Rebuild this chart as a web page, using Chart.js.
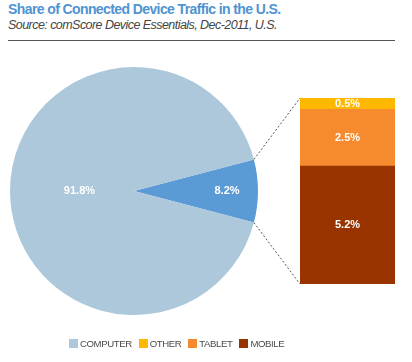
<!DOCTYPE html>
<html>
<head>
<meta charset="utf-8">
<script src="https://cdn.jsdelivr.net/npm/chart.js@4/dist/chart.umd.min.js"></script>
<style>
  body { margin: 0; background: #fff; width: 412px; height: 362px; position: relative; overflow: hidden; font-family: "Liberation Sans", Arial, sans-serif; }
  .title { position: absolute; left: 8px; top: 1px; font-size: 14px; font-weight: bold; color: #4f93d2; letter-spacing: -0.6px; white-space: nowrap; }
  .source { position: absolute; left: 8px; top: 18px; font-size: 12.5px; font-style: italic; color: #444; letter-spacing: -0.55px; white-space: nowrap; }
  .rule { position: absolute; left: 8px; top: 40px; width: 387px; height: 1px; background: #555; }
  #pie { position: absolute; left: 10px; top: 67px; }
  #bar { position: absolute; left: 300px; top: 98px; }
  #links { position: absolute; left: 0; top: 0; pointer-events: none; }
  .legend { position: absolute; left: 69px; top: 338px; font-size: 9.6px; color: #4a4a4a; letter-spacing: -0.4px; white-space: nowrap; }
  .legend span.item { display: inline-block; margin-right: 7px; }
  .legend i { display: inline-block; width: 9px; height: 9px; vertical-align: -1px; margin-right: 2px; }
</style>
</head>
<body>
<div class="title">Share of Connected Device Traffic in the U.S.</div>
<div class="source">Source: comScore Device Essentials, Dec-2011, U.S.</div>
<div class="rule"></div>
<canvas id="pie" width="248" height="248"></canvas>
<canvas id="bar" width="95" height="186"></canvas>
<canvas id="links" width="412" height="362"></canvas>
<div class="legend" id="legend"></div>
<script>
// pie: non-computer share split out into the bar
const pieLabels = ['MOBILE DEVICES', 'COMPUTER'];
const pieValues = [8.2, 91.8];
const pieColors = ['#5b9bd5', '#adc8da'];

// stacked bar breakdown (bottom to top)
const barLabels = ['MOBILE', 'TABLET', 'OTHER'];
const barValues = [5.2, 2.5, 0.5];
const barColors = ['#993300', '#f58b2e', '#ffb800'];

const legendLabels = ['COMPUTER', 'OTHER', 'TABLET', 'MOBILE'];
const legendColors = ['#adc8da', '#ffb800', '#f58b2e', '#993300'];

const labelFont = 'bold 11px "Liberation Sans", Arial, sans-serif';

const pieLabelPlugin = {
  id: 'pieLabels',
  afterDatasetsDraw(chart) {
    const ctx = chart.ctx;
    const radii = [0.75, 0.44];
    chart.getDatasetMeta(0).data.forEach((arc, i) => {
      const mid = (arc.startAngle + arc.endAngle) / 2;
      const r = arc.outerRadius * radii[i];
      ctx.save();
      ctx.font = labelFont;
      ctx.fillStyle = '#fff';
      ctx.textAlign = 'center';
      ctx.textBaseline = 'middle';
      ctx.fillText(pieValues[i].toFixed(1) + '%', arc.x + Math.cos(mid) * r, arc.y + Math.sin(mid) * r);
      ctx.restore();
    });
  }
};

const barLabelPlugin = {
  id: 'barLabels',
  afterDatasetsDraw(chart) {
    const ctx = chart.ctx;
    chart.data.datasets.forEach((ds, i) => {
      const bar = chart.getDatasetMeta(i).data[0];
      ctx.save();
      ctx.font = labelFont;
      ctx.fillStyle = '#fff';
      ctx.textAlign = 'center';
      ctx.textBaseline = 'middle';
      ctx.fillText(ds.data[0].toFixed(1) + '%', bar.x, (bar.y + bar.base) / 2);
      ctx.restore();
    });
  }
};

// start the small slice so it sits centred on 3 o'clock
const halfSlice = pieValues[0] / 100 * 180;

const pieChart = new Chart(document.getElementById('pie'), {
  type: 'pie',
  data: {
    labels: pieLabels,
    datasets: [{ data: pieValues, backgroundColor: pieColors, borderWidth: 0 }]
  },
  options: {
    responsive: false,
    animation: false,
    devicePixelRatio: 1,
    rotation: 90 - halfSlice,
    plugins: { legend: { display: false }, tooltip: { enabled: false } }
  },
  plugins: [pieLabelPlugin]
});

const barChart = new Chart(document.getElementById('bar'), {
  type: 'bar',
  data: {
    labels: ['MOBILE DEVICES'],
    datasets: barLabels.map((name, i) => ({
      label: name,
      data: [barValues[i]],
      backgroundColor: barColors[i],
      borderWidth: 0,
      barPercentage: 1,
      categoryPercentage: 1
    }))
  },
  options: {
    responsive: false,
    animation: false,
    devicePixelRatio: 1,
    scales: {
      x: { stacked: true, display: false },
      y: { stacked: true, display: false, min: 0, max: barValues.reduce((a, b) => a + b, 0) }
    },
    plugins: { legend: { display: false }, tooltip: { enabled: false } }
  },
  plugins: [barLabelPlugin]
});

// dashed connectors from the small slice to the bar
(function drawLinks() {
  const ctx = document.getElementById('links').getContext('2d');
  const pieEl = document.getElementById('pie');
  const barEl = document.getElementById('bar');
  const arc = pieChart.getDatasetMeta(0).data[0];
  const n = barValues.length;
  const topBar = barChart.getDatasetMeta(n - 1).data[0];
  const bottomBar = barChart.getDatasetMeta(0).data[0];
  const px = pieEl.offsetLeft, py = pieEl.offsetTop;
  const bx = barEl.offsetLeft, by = barEl.offsetTop;
  const left = bx + topBar.x - topBar.width / 2;
  const pts = [
    [arc.startAngle, by + topBar.y],
    [arc.endAngle, by + bottomBar.base]
  ];
  ctx.strokeStyle = '#555';
  ctx.lineWidth = 1;
  ctx.setLineDash([2, 2]);
  pts.forEach(([ang, ty]) => {
    ctx.beginPath();
    ctx.moveTo(px + arc.x + Math.cos(ang) * arc.outerRadius, py + arc.y + Math.sin(ang) * arc.outerRadius);
    ctx.lineTo(left, ty);
    ctx.stroke();
  });
})();

document.getElementById('legend').innerHTML = legendLabels
  .map((name, i) => `<span class="item"><i style="background:${legendColors[i]}"></i>${name}</span>`)
  .join('');
</script>
</body>
</html>
